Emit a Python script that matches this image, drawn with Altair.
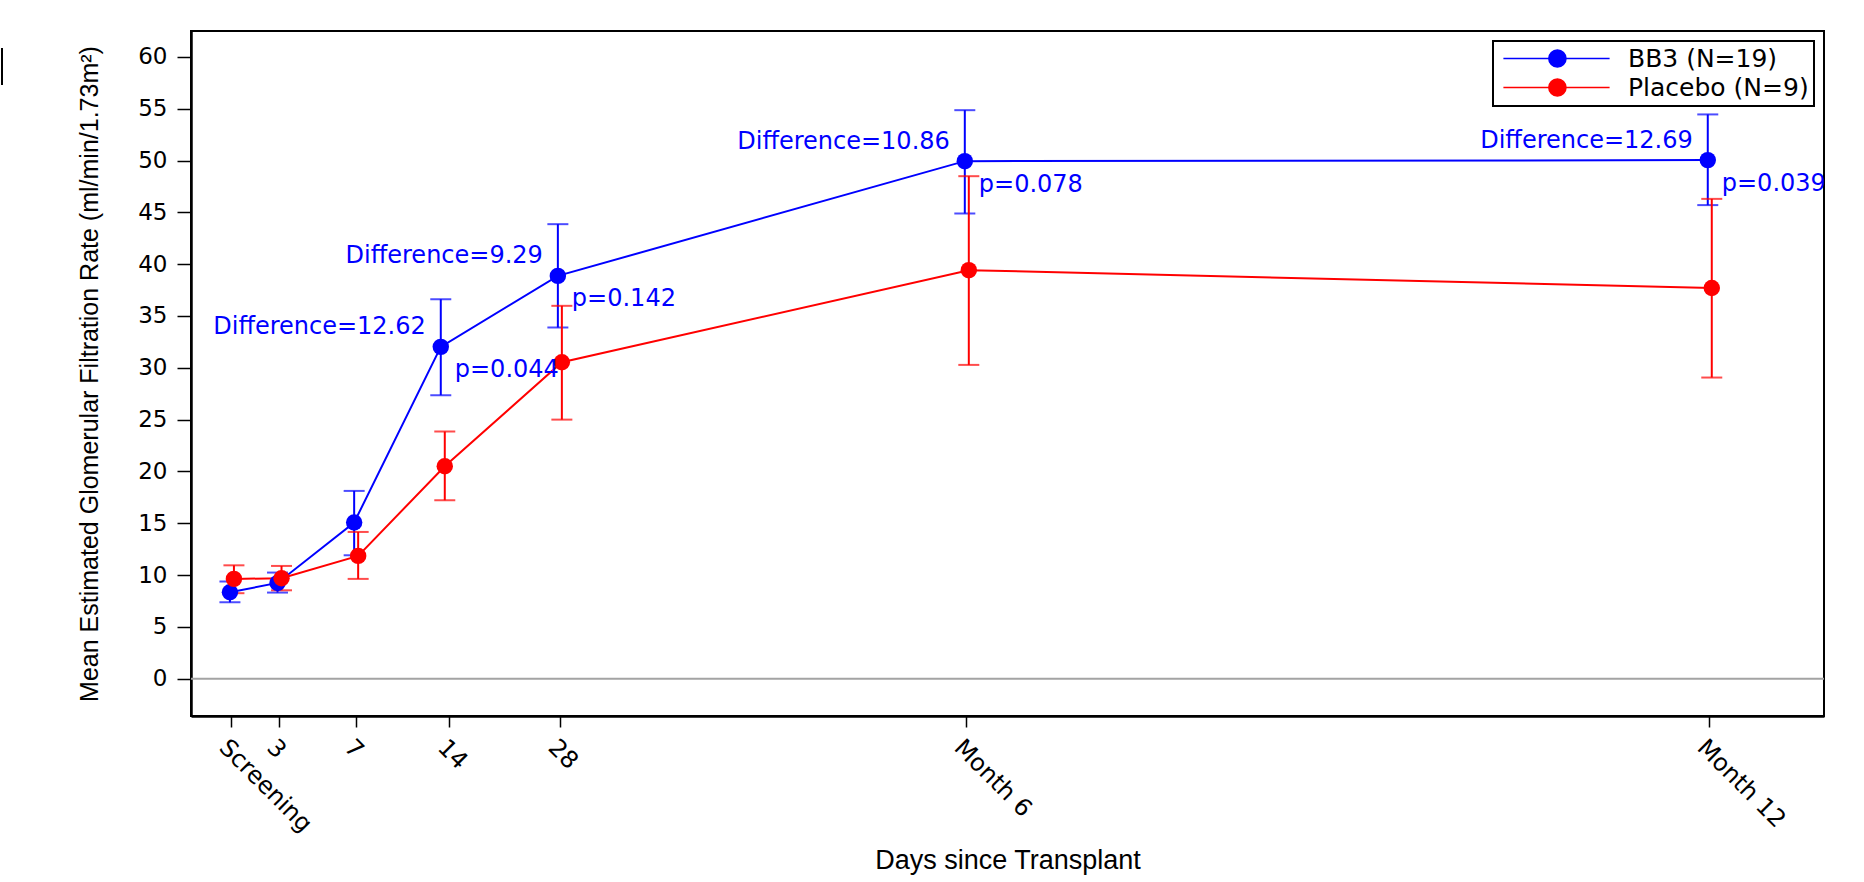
import altair as alt
import pandas as pd

# ---- data ----
visits = ["Screening", "3", "7", "14", "28", "Month 6", "Month 12"]
# tick position of each visit along the (non-linear) x axis, in units where Screening=0 and Day 3=1
axis_pos = [0.0, 1.0, 2.63, 4.59, 6.91, 15.44, 31.05]
# where the plotted points sit along that same axis (day-14 points sit a little left of their tick)
point_pos = [0.02, 1.02, 2.63, 4.45, 6.91, 15.46, 31.07]

groups = ["BB3 (N=19)", "Placebo (N=9)"]
colors = ["#0000FF", "#FF0000"]

bb3_mean = [8.34, 9.24, 15.07, 32.02, 38.87, 49.94, 50.04]
bb3_lo = [7.37, 8.31, 11.91, 27.36, 33.89, 44.89, 45.70]
bb3_hi = [9.37, 10.24, 18.12, 36.62, 43.86, 54.86, 54.45]

pla_mean = [9.63, 9.69, 11.85, 20.50, 30.54, 39.42, 37.70]
pla_lo = [8.25, 8.53, 9.63, 17.22, 25.00, 30.28, 29.06]
pla_hi = [10.94, 10.88, 14.16, 23.85, 35.98, 48.49, 46.30]

ann_visits = ["14", "28", "Month 6", "Month 12"]
ann_diff = ["Difference=12.62", "Difference=9.29", "Difference=10.86", "Difference=12.69"]
ann_p = ["p=0.044", "p=0.142", "p=0.078", "p=0.039"]

y_ticks = list(range(0, 61, 5))
y_domain = [-3.6, 62.5]
x_domain = [-0.84, 33.47]

# ---- tables ----
rows = []
for g, m, lo, hi in [(groups[0], bb3_mean, bb3_lo, bb3_hi), (groups[1], pla_mean, pla_lo, pla_hi)]:
    for i, v in enumerate(visits):
        rows.append({"visit": v, "pos": point_pos[i], "group": g, "mean": m[i], "lo": lo[i], "hi": hi[i]})
df = pd.DataFrame(rows)

ann = pd.DataFrame({
    "visit": ann_visits,
    "pos": [point_pos[visits.index(v)] for v in ann_visits],
    "mean": [bb3_mean[visits.index(v)] for v in ann_visits],
    "diff": ann_diff,
    "p": ann_p,
})

label_expr = (
    "[" + ",".join("'" + v + "'" for v in visits) + "][indexof(["
    + ",".join(str(p) for p in axis_pos) + "], datum.value)]"
)

LAB_FONT = "DejaVu Sans"
TITLE_FONT = "Liberation Sans"

x_axis = alt.Axis(
    values=axis_pos, labelExpr=label_expr, labelAngle=45, labelFont=LAB_FONT,
    labelFontSize=24, labelPadding=8, tickSize=11, labelOverlap=False, labelFlush=False,
    title="Days since Transplant",
    titleFont=TITLE_FONT, titleFontSize=27, titleFontWeight="normal",
    titleY=152, titleBaseline="alphabetic", grid=False,
)
y_axis = alt.Axis(
    values=y_ticks, labelFont=LAB_FONT, labelFontSize=23, labelPadding=10, tickSize=14,
    labelOverlap=False,
    title="Mean Estimated Glomerular Filtration Rate (ml/min/1.73m²)",
    titleFont=TITLE_FONT, titleFontSize=25, titleFontWeight="normal",
    titleX=-94, titleBaseline="alphabetic", grid=False,
)


def X():
    return alt.X("pos:Q", scale=alt.Scale(domain=x_domain, nice=False, zero=False), axis=x_axis)


def Y(field):
    return alt.Y(field + ":Q", scale=alt.Scale(domain=y_domain, nice=False, zero=False), axis=y_axis)


# legend symbol: a short line with a dot in its middle, drawn to the left of the entry anchor;
# a small white left-hand title widens the legend box so that it encloses the symbols.
legend = alt.Legend(
    title=".", titleOrient="left", titleFontSize=10, titleColor="white", titlePadding=88,
    orient="top-right", offset=10, padding=5, rowPadding=3,
    strokeColor="black", fillColor="white",
    symbolType="M-10.9,0H0.9M-5.85,0A0.95,0.95,0,1,0,-3.95,0A0.95,0.95,0,1,0,-5.85,0Z",
    symbolSize=324, symbolStrokeWidth=1.6, labelOffset=14, labelLimit=400,
    labelFont=LAB_FONT, labelFontSize=25, labelColor="black",
)
col_scale = alt.Scale(domain=groups, range=colors)

base = alt.Chart(df)
layers = []

# zero reference line
layers.append(
    alt.Chart(pd.DataFrame({"y": [0]})).mark_rule(color="#a3a3a3", strokeWidth=2).encode(y=Y("y"))
)

offsets = [-2, 2]
for g, c, o in zip(groups, colors, offsets):
    sub = base.transform_filter(alt.datum.group == g)
    layers.append(sub.mark_rule(color=c, strokeWidth=2, xOffset=o).encode(x=X(), y=Y("lo"), y2="hi:Q"))
    layers.append(sub.mark_tick(color=c, orient="horizontal", size=21, thickness=2, xOffset=o).encode(x=X(), y=Y("lo")))
    layers.append(sub.mark_tick(color=c, orient="horizontal", size=21, thickness=2, xOffset=o).encode(x=X(), y=Y("hi")))

for g, c, o in zip(groups, colors, offsets):
    sub = base.transform_filter(alt.datum.group == g)
    layers.append(sub.mark_line(strokeWidth=2, xOffset=o).encode(
        x=X(), y=Y("mean"), stroke=alt.Stroke("group:N", scale=col_scale, legend=legend)))

for g, c, o in zip(groups, colors, offsets):
    sub = base.transform_filter(alt.datum.group == g)
    layers.append(sub.mark_circle(size=270, opacity=1, xOffset=o).encode(
        x=X(), y=Y("mean"), fill=alt.Fill("group:N", scale=col_scale, legend=legend)))

ann_base = alt.Chart(ann)
layers.append(ann_base.mark_text(align="right", baseline="alphabetic", dx=-17, dy=-12.5,
                                 font=LAB_FONT, fontSize=24, color="#0000FF").encode(
    x=X(), y=Y("mean"), text="diff:N"))
layers.append(ann_base.mark_text(align="left", baseline="alphabetic", dx=12, dy=30.5,
                                 font=LAB_FONT, fontSize=24, color="#0000FF").encode(
    x=X(), y=Y("mean"), text="p:N"))

# small stray mark at the top-left of the reference image
layers.append(alt.Chart(pd.DataFrame({"a": [0]})).mark_rule(color="black", strokeWidth=2).encode(
    x=alt.value(-189), y=alt.value(17), y2=alt.value(54)))

chart = alt.layer(*layers).properties(
    width=1633, height=685,
    autosize=alt.AutoSizeParams(type="none"),
    padding={"left": 191, "top": 31, "right": 40, "bottom": 166},
    background="white",
).configure_view(
    stroke="black", strokeWidth=2,
).configure_axis(
    domainColor="black", domainWidth=2.5, tickColor="black", tickWidth=1.5,
    labelColor="black", titleColor="black",
).configure_legend(
    strokeWidth=2,
)

chart.save("out.html", embed_options={"renderer": "svg", "actions": False})
